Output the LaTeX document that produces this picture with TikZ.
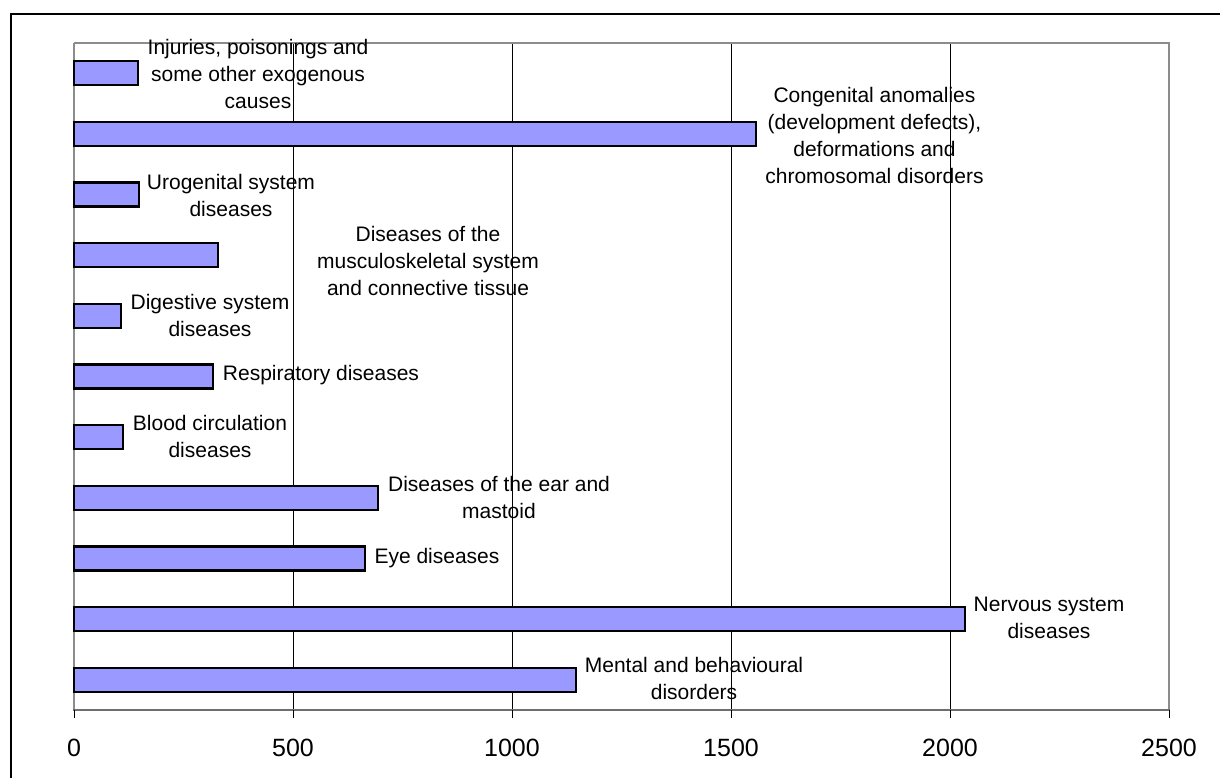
\documentclass[tikz,border=0pt]{standalone}
\usepackage{fontspec}
\setmainfont{Liberation Sans}
\begin{document}
\begin{tikzpicture}[x=1pt,y=-1pt,
  bar/.style={draw=black,line width=2.3pt,fill=barblue},
  grid/.style={draw=black,line width=0.9pt},
  frameline/.style={draw=axisgray,line width=2.5pt},
  cat/.style={align=center,inner sep=0pt,font=\fontsize{21}{27}\selectfont},
  ticklab/.style={inner sep=0pt,font=\fontsize{25}{30}\selectfont},
  tickmark/.style={draw=black,line width=0.9pt}]
\definecolor{barblue}{HTML}{9999FF}
\definecolor{axisgray}{HTML}{8C8C8C}
\definecolor{axisdark}{HTML}{6E6E6E}
\useasboundingbox (0,0) rectangle (1220,778);
% outer frame
\draw[black,line width=2.3pt] (11,778) -- (11,14) -- (1220,14);
% gridlines
\foreach \gx in {293,512,731,950} \draw[grid] (\gx,43) -- (\gx,710);
% plot border
\draw[frameline] (74,43) -- (1169,43) -- (1169,710);
\draw[draw=axisgray,line width=2pt] (74,43) -- (74,710);
\draw[draw=axisdark,line width=2pt] (73,710) -- (1170,710);
% ticks and labels
\foreach \v/\gx in {0/74,500/293,1000/512,1500/731,2000/950,2500/1169} {
  \draw[tickmark] (\gx,710) -- (\gx,718);
  \node[ticklab] (t\v) at (\gx,748) {\v};
}
% bars
\foreach \i/\r in {0/138,1/756,2/138.7,3/218.3,4/121,5/213.3,6/122.7,7/378.3,8/365,9/965,10/576} {
  \pgfmathsetmacro{\cy}{43+60.636*(\i+0.5)}
  \draw[bar] (74,\cy-12) rectangle (\r,\cy+12);
}
% labels
\node[cat] (l0) at (258,74) {Injuries, poisonings and\\some other exogenous\\causes};
\node[cat] (l1) at (874.5,135) {Congenital anomalies\\(development defects),\\deformations and\\chromosomal disorders};
\node[cat] (l2) at (231,195) {Urogenital system\\diseases};
\node[cat] (l3) at (428,261) {Diseases of the\\musculoskeletal system\\and connective tissue};
\node[cat] (l4) at (210,315) {Digestive system\\diseases};
\node[cat] (l5) at (321,375) {Respiratory diseases};
\node[cat] (l6) at (210,436.5) {Blood circulation\\diseases};
\node[cat] (l7) at (499,497.5) {Diseases of the ear and\\mastoid};
\node[cat] (l8) at (437,558) {Eye diseases};
\node[cat] (l9) at (1049,618) {Nervous system\\diseases};
\node[cat] (l10) at (694,678) {Mental and behavioural\\disorders};
\end{tikzpicture}
\end{document}
